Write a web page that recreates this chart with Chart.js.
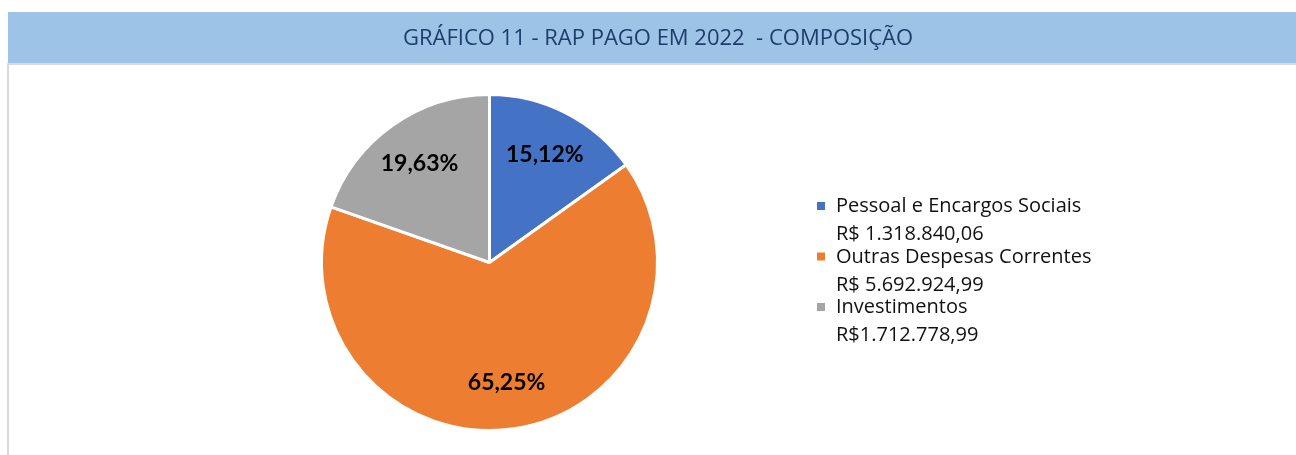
<!DOCTYPE html>
<html>
<head>
<meta charset="utf-8">
<script src="https://cdn.jsdelivr.net/npm/chart.js@4/dist/chart.umd.min.js"></script>
<style>
  html, body { margin: 0; padding: 0; background: #fff; }
  #wrap { position: relative; width: 1296px; height: 455px; }
</style>
</head>
<body>
<div id="wrap"><canvas id="myChart" width="1296" height="455"></canvas></div>
<script>
// Dados do gráfico
const titulo = 'GRÁFICO 11 - RAP PAGO EM 2022  - COMPOSIÇÃO';
const categorias = ['Pessoal e Encargos Sociais', 'Outras Despesas Correntes', 'Investimentos'];
const valores = [1318840.06, 5692924.99, 1712778.99];
const valoresTexto = ['R$ 1.318.840,06', 'R$ 5.692.924,99', 'R$1.712.778,99'];
const cores = ['#4472C4', '#ED7D31', '#A5A5A5'];

const total = valores.reduce((a, b) => a + b, 0);

// Fundo, faixa do título e bordas
const moldura = {
    id: 'moldura',
    beforeDraw(chart) {
        const ctx = chart.ctx;
        ctx.save();
        ctx.fillStyle = '#ffffff';
        ctx.fillRect(0, 0, chart.width, chart.height);
        ctx.fillStyle = '#9DC3E6';
        ctx.fillRect(8, 12, chart.width - 8, 51);
        ctx.fillStyle = '#D9D9D9';
        ctx.fillRect(7, 63, chart.width - 7, 2);
        ctx.fillRect(7, 63, 2, chart.height - 63);
        ctx.fillStyle = '#1F3D6B';
        ctx.font = '22px "Open Sans"';
        ctx.textAlign = 'center';
        ctx.textBaseline = 'middle';
        ctx.fillText(titulo, 658, 39);
        ctx.restore();
    }
};

// Rótulos de porcentagem dentro das fatias
const rotulos = {
    id: 'rotulos',
    afterDatasetsDraw(chart) {
        const ctx = chart.ctx;
        const meta = chart.getDatasetMeta(0);
        ctx.save();
        ctx.fillStyle = '#000';
        ctx.font = 'bold 23px Lato';
        ctx.textAlign = 'center';
        ctx.textBaseline = 'middle';
        meta.data.forEach((arc, i) => {
            const p = arc.getProps(['x', 'y', 'startAngle', 'endAngle', 'outerRadius']);
            const meio = (p.startAngle + p.endAngle) / 2;
            const r = p.outerRadius * 0.72;
            const pct = (valores[i] / total * 100).toFixed(2).replace('.', ',') + '%';
            ctx.fillText(pct, p.x + Math.cos(meio) * r, p.y + Math.sin(meio) * r);
        });
        ctx.restore();
    }
};

// Legenda em duas linhas (nome + valor)
const legenda = {
    id: 'legenda',
    afterDraw(chart) {
        const ctx = chart.ctx;
        ctx.save();
        ctx.font = '20px "Open Sans"';
        ctx.textBaseline = 'alphabetic';
        ctx.textAlign = 'left';
        categorias.forEach((nome, i) => {
            const base = 212 + i * 50.5;
            ctx.fillStyle = cores[i];
            ctx.fillRect(817, base - 10, 8, 8);
            ctx.fillStyle = '#111';
            ctx.fillText(nome, 836, base);
            ctx.fillText(valoresTexto[i], 836, base + 28);
        });
        ctx.restore();
    }
};

const ctx = document.getElementById('myChart').getContext('2d');
const myChart = new Chart(ctx, {
    type: 'pie',
    data: {
        labels: categorias,
        datasets: [{
            data: valores,
            backgroundColor: cores,
            borderColor: '#ffffff',
            borderWidth: 3,
            hoverOffset: 0
        }]
    },
    options: {
        responsive: false,
        animation: false,
        events: [],
        radius: 168,
        layout: {
            padding: { top: 94, bottom: 24, left: 321, right: 638 }
        },
        plugins: {
            legend: { display: false },
            tooltip: { enabled: false },
            title: { display: false }
        }
    },
    plugins: [moldura, rotulos, legenda]
});
</script>
</body>
</html>
